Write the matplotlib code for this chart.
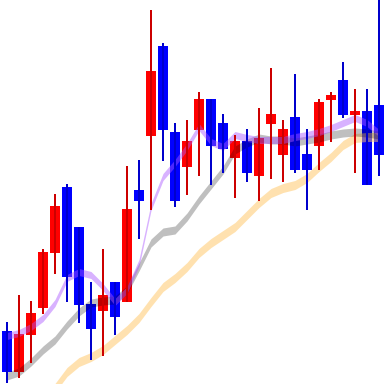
import numpy as np
import matplotlib
matplotlib.use("Agg")
import matplotlib.pyplot as plt

# OHLC (arbitrary price units)
opens = [53, 12, 49, 76, 131, 197, 157, 80, 73, 102, 82, 194, 248, 338, 252, 217,
         254, 285, 261, 226, 243, 208, 260, 229, 267, 230, 238, 284, 304, 269, 273, 279]
highs = [62, 89, 83, 135, 190, 200, 157, 102, 135, 102, 218, 224, 374, 341, 261, 264,
         292, 285, 270, 249, 255, 276, 316, 264, 310, 255, 285, 292, 322, 295, 295, 392]
lows = [1, 6, 21, 70, 110, 82, 61, 24, 28, 49, 82, 145, 174, 223, 177, 189,
        208, 199, 211, 186, 202, 183, 205, 202, 211, 174, 214, 242, 266, 211, 199, 208]
closes = [12, 50, 71, 132, 178, 107, 79, 55, 89, 67, 175, 183, 313, 254, 183, 243,
          285, 238, 235, 243, 211, 246, 270, 255, 214, 214, 282, 289, 269, 273, 199, 229]

# moving averages as drawn
ma_short = [48, 51, 57, 66, 81, 106, 112, 109, 97, 82, 94, 121, 177, 207, 221, 237,
            257, 242, 237, 249, 246, 244, 244, 244, 247, 249, 252, 256, 261, 266, 261, 251]
ma_mid = [8, 12, 22, 34, 44, 59, 72, 81, 83, 84, 94, 117, 141, 152, 154, 167,
          184, 199, 214, 234, 241, 246, 244, 244, 242, 244, 246, 249, 251, 252, 251, 249]
ma_long = [np.nan, np.nan, np.nan, np.nan, -4, 12, 22, 27, 34, 44, 54, 66, 82, 97, 106, 117,
           131, 141, 149, 157, 169, 181, 191, 196, 199, 206, 217, 227, 239, 246, 247, 247]

o = np.array(opens, float)
h = np.array(highs, float)
l = np.array(lows, float)
c = np.array(closes, float)
x = np.arange(len(o))
up = c >= o

fig = plt.figure(figsize=(3.84, 3.84), dpi=100)
ax = fig.add_axes([0, 0, 1, 1])

# wicks first, bodies on top
ax.vlines(x[up], l[up], h[up], color="#cc0000", linewidth=1.44, antialiased=False)
ax.vlines(x[~up], l[~up], h[~up], color="#0000cc", linewidth=1.44, antialiased=False)
ax.bar(x[up], c[up] - o[up], bottom=o[up], width=0.83, color="#ff0000", antialiased=False)
ax.bar(x[~up], o[~up] - c[~up], bottom=c[~up], width=0.83, color="#0000ff", antialiased=False)


# MA bands: constant vertical thickness like the original renderer
def band(vals, half, color, alpha):
    v = np.array(vals, float)
    ok = ~np.isnan(v)
    ax.fill_between(x[ok], v[ok] - half, v[ok] + half, color=color, alpha=alpha,
                    linewidth=0, antialiased=False)


band(ma_long, 4.5, "#ffc560", 0.5)
band(ma_mid, 4.0, "black", 0.25)
band(ma_short, 3.5, "#aa55ff", 0.45)

ax.set_xlim(-0.583, 31.417)
ax.set_ylim(0, 384)
ax.axis("off")

fig.savefig("out.png", dpi=100, facecolor="white")
